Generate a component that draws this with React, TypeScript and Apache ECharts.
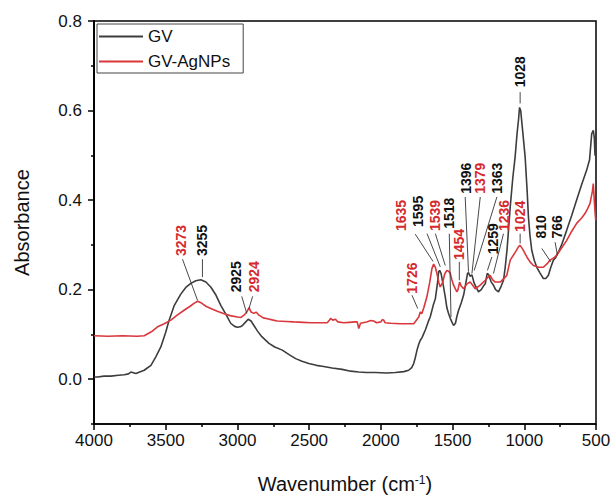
import React, { useEffect, useRef } from "react";
import * as echarts from "echarts";

// ---- Data ----
const gvWavenumber = [
  4000, 3975, 3930, 3882, 3830, 3789, 3760, 3743, 3708, 3650, 3603, 3569, 3534, 3500, 3478, 3440, 3395, 3360, 3325, 3290,
  3255, 3220, 3186, 3150, 3116, 3080, 3047, 3020, 3000, 2980, 2965, 2945, 2925, 2905, 2885, 2861, 2830, 2780, 2740, 2687,
  2640, 2594, 2550, 2502, 2450, 2409, 2340, 2270, 2210, 2154, 2100, 2038, 1960, 1899, 1840, 1806, 1785, 1771, 1760, 1748,
  1736, 1725, 1713, 1690, 1670, 1655, 1635, 1620, 1605, 1597, 1590, 1580, 1565, 1551, 1540, 1528, 1516, 1505, 1493, 1480,
  1470, 1458, 1440, 1423, 1410, 1396, 1389, 1378, 1365, 1350, 1335, 1319, 1300, 1285, 1272, 1259, 1249, 1232, 1215, 1200,
  1180, 1165, 1145, 1133, 1120, 1098, 1080, 1064, 1050, 1040, 1033, 1025, 1010, 994, 980, 971, 960, 948, 930, 913,
  890, 867, 850, 832, 815, 797, 780, 766, 762, 740, 704, 670, 635, 600, 565, 545, 530, 519, 512, 507, 500,
];
const gvAbsorbance = [
  0.005, 0.005, 0.007, 0.007, 0.009, 0.01, 0.012, 0.016, 0.013, 0.02, 0.031, 0.05, 0.072, 0.105, 0.13, 0.165, 0.19, 0.205, 0.214, 0.22,
  0.222, 0.217, 0.206, 0.188, 0.165, 0.145, 0.125, 0.118, 0.116, 0.117, 0.12, 0.127, 0.134, 0.13, 0.12, 0.108, 0.095, 0.08, 0.072, 0.065,
  0.055, 0.046, 0.04, 0.035, 0.031, 0.029, 0.025, 0.022, 0.018, 0.016, 0.015, 0.015, 0.014, 0.015, 0.017, 0.02, 0.026, 0.035, 0.048, 0.065,
  0.078, 0.087, 0.093, 0.11, 0.128, 0.14, 0.165, 0.18, 0.215, 0.24, 0.243, 0.236, 0.21, 0.184, 0.16, 0.147, 0.136, 0.128, 0.12, 0.125,
  0.14, 0.154, 0.17, 0.188, 0.21, 0.236, 0.238, 0.23, 0.233, 0.215, 0.205, 0.195, 0.2, 0.208, 0.213, 0.236, 0.234, 0.218, 0.21, 0.2,
  0.195, 0.205, 0.221, 0.25, 0.29, 0.385, 0.45, 0.496, 0.55, 0.58, 0.607, 0.6, 0.55, 0.496, 0.42, 0.362, 0.32, 0.288, 0.265, 0.25,
  0.237, 0.225, 0.225, 0.232, 0.25, 0.266, 0.272, 0.283, 0.284, 0.3, 0.333, 0.365, 0.4, 0.435, 0.467, 0.49, 0.548, 0.556, 0.54, 0.5, 0.5,
];

const agWavenumber = [
  4000, 3900, 3800, 3700, 3650, 3600, 3557, 3510, 3464, 3420, 3372, 3330, 3300, 3278, 3250, 3220, 3186, 3140, 3093, 3050,
  3000, 2975, 2954, 2935, 2919, 2905, 2885, 2870, 2850, 2820, 2791, 2750, 2722, 2660, 2606, 2540, 2490, 2420, 2374, 2360,
  2351, 2335, 2316, 2300, 2258, 2220, 2180, 2165, 2154, 2142, 2100, 2070, 2050, 2030, 2000, 1990, 1980, 1970, 1930, 1864,
  1800, 1771, 1750, 1736, 1725, 1715, 1700, 1679, 1660, 1644, 1632, 1620, 1609, 1595, 1586, 1568, 1555, 1540, 1527, 1516,
  1505, 1493, 1470, 1462, 1451, 1440, 1423, 1400, 1377, 1360, 1342, 1307, 1272, 1250, 1238, 1220, 1203, 1168, 1145, 1122,
  1098, 1060, 1040, 1029, 1010, 982, 960, 936, 900, 867, 840, 820, 790, 774, 740, 704, 670, 635, 600, 577,
  560, 542, 525, 519, 512, 506, 502, 500,
];
const agAbsorbance = [
  0.097, 0.096, 0.097, 0.096, 0.097, 0.106, 0.117, 0.124, 0.132, 0.143, 0.154, 0.163, 0.17, 0.174, 0.17, 0.163, 0.158, 0.152, 0.146, 0.142,
  0.139, 0.138, 0.143, 0.15, 0.16, 0.15, 0.147, 0.15, 0.143, 0.137, 0.135, 0.132, 0.13, 0.129, 0.128, 0.127, 0.126, 0.126, 0.126, 0.131,
  0.136, 0.132, 0.134, 0.128, 0.126, 0.127, 0.128, 0.128, 0.113, 0.125, 0.128, 0.131, 0.13, 0.126, 0.128, 0.133, 0.132, 0.126, 0.125, 0.124,
  0.124, 0.124, 0.133, 0.139, 0.15, 0.146, 0.16, 0.184, 0.215, 0.247, 0.257, 0.25, 0.236, 0.215, 0.206, 0.217, 0.235, 0.243, 0.241, 0.236,
  0.222, 0.21, 0.195, 0.2, 0.217, 0.208, 0.202, 0.213, 0.217, 0.21, 0.202, 0.21, 0.221, 0.229, 0.232, 0.222, 0.217, 0.217, 0.224, 0.232,
  0.266, 0.285, 0.296, 0.299, 0.29, 0.273, 0.262, 0.254, 0.25, 0.25, 0.258, 0.266, 0.272, 0.277, 0.293, 0.31, 0.33, 0.348, 0.36, 0.37,
  0.38, 0.392, 0.42, 0.437, 0.4, 0.37, 0.355, 0.355,
];

const seriesNames = ["GV", "GV-AgNPs"];
const xTickInterval = 500;
const yMajorTicks = [0, 0.2, 0.4, 0.6, 0.8];
const yMinorTicks = [-0.1, 0.1, 0.3, 0.5, 0.7];

// Peak annotations: label, red?, label anchor (wavenumber, absorbance), leader line from -> to
const peakLabels = ["3273", "3255", "2925", "2924", "1726", "1635", "1595", "1539", "1518", "1454", "1396", "1379", "1363", "1259", "1236", "1024", "810", "766", "1028"];
const peakIsRed = [true, false, false, true, true, true, false, true, false, true, false, true, false, false, true, true, false, false, false];
const labelWn = [3395, 3244, 3012, 2885, 1783, 1859, 1741, 1625, 1523, 1453, 1407, 1307, 1187, 1215, 1140, 1029, 885, 774, 1029];
const labelAbs = [0.275, 0.275, 0.194, 0.194, 0.191, 0.331, 0.34, 0.331, 0.336, 0.266, 0.414, 0.414, 0.414, 0.279, 0.331, 0.329, 0.314, 0.314, 0.652];
const lineFromWn = [3383, 3244, 2970, 2894, 1783, 1760, 1678, 1620, 1523, 1453, 1412, 1307, 1191, 1226, 1145, 1029, 878, 785, 1029];
const lineFromAbs = [0.268, 0.268, 0.185, 0.185, 0.1875, 0.324, 0.325, 0.325, 0.325, 0.262, 0.407, 0.407, 0.407, 0.273, 0.325, 0.325, 0.292, 0.306, 0.641];
const lineToWn = [3278, 3244, 2935, 2919, 1743, 1636, 1586, 1551, 1511, 1453, 1389, 1365, 1349, 1257, 1215, 1029, 815, 769, 1029];
const lineToAbs = [0.176, 0.228, 0.147, 0.158, 0.158, 0.263, 0.251, 0.254, 0.139, 0.221, 0.24, 0.236, 0.243, 0.243, 0.236, 0.303, 0.262, 0.277, 0.616];

const BLACK = "#3d3d3d";
const RED = "#d9373b";
const FONT = '"Liberation Sans", Arial, sans-serif';

export default function App() {
  const ref = useRef<HTMLDivElement>(null);

  useEffect(() => {
    if (!ref.current) return;
    const chart = echarts.init(ref.current, undefined, { renderer: "svg" });

    const yAxisBase = {
      type: "value",
      min: -0.1,
      max: 0.8,
      position: "left",
      splitLine: { show: false },
      axisLine: { show: true, onZero: false, lineStyle: { color: "#000", width: 1.5 } },
    };

    chart.setOption({
      animation: false,
      backgroundColor: "#fff",
      textStyle: { fontFamily: FONT },
      grid: {
        left: 94,
        right: 19,
        top: 21,
        bottom: 78,
        show: true,
        borderColor: "#000",
        borderWidth: 1.5,
        containLabel: false,
      },
      legend: {
        show: true,
        orient: "vertical",
        left: 97,
        top: 24,
        data: seriesNames,
        icon: "rect",
        itemWidth: 44,
        itemHeight: 2,
        itemGap: 8,
        padding: [4, 13, 3, 2],
        borderColor: "#444",
        borderWidth: 1,
        backgroundColor: "#fff",
        textStyle: { fontSize: 17, color: "#111", fontFamily: FONT, lineHeight: 17, padding: [0, 0, 0, 0] },
      },
      xAxis: {
        type: "value",
        min: 500,
        max: 4000,
        interval: xTickInterval,
        inverse: true,
        name: "Wavenumber (cm{sup|-1})",
        nameLocation: "middle",
        nameGap: 50,
        nameTextStyle: {
          fontSize: 20,
          color: "#111",
          fontFamily: FONT,
          rich: { sup: { fontSize: 12, verticalAlign: "top", color: "#111", fontFamily: FONT } },
        },
        splitLine: { show: false },
        axisLine: { show: true, onZero: false, lineStyle: { color: "#000", width: 1.5 } },
        axisTick: { show: true, inside: false, length: 6, lineStyle: { color: "#000", width: 1.5 } },
        minorTick: { show: true, splitNumber: 2, length: 3, lineStyle: { color: "#000", width: 1.5 } },
        axisLabel: {
          fontSize: 17,
          color: "#111",
          margin: 8,
          fontFamily: FONT,
          formatter: (v: number) => String(v),
        },
      },
      yAxis: [
        {
          ...yAxisBase,
          name: "Absorbance",
          nameLocation: "middle",
          nameGap: 62,
          nameTextStyle: { fontSize: 20, color: "#111", fontFamily: FONT },
          axisTick: { show: true, inside: false, length: 6, customValues: yMajorTicks, lineStyle: { color: "#000", width: 1.5 } },
          axisLabel: {
            customValues: yMajorTicks,
            fontSize: 17,
            color: "#111",
            margin: 12,
            fontFamily: FONT,
            formatter: (v: number) => v.toFixed(1),
          },
        },
        {
          ...yAxisBase,
          axisTick: { show: true, inside: false, length: 3, customValues: yMinorTicks, lineStyle: { color: "#000", width: 1.5 } },
          axisLabel: { show: false },
        },
      ],
      series: [
        {
          name: seriesNames[0],
          type: "line",
          showSymbol: false,
          symbol: "none",
          color: BLACK,
          lineStyle: { color: BLACK, width: 1.6 },
          data: gvWavenumber.map((w, i) => [w, gvAbsorbance[i]]),
          z: 2,
        },
        {
          name: seriesNames[1],
          type: "line",
          showSymbol: false,
          symbol: "none",
          color: RED,
          lineStyle: { color: RED, width: 1.6 },
          data: agWavenumber.map((w, i) => [w, agAbsorbance[i]]),
          z: 3,
        },
      ],
    });

    const toPx = (wn: number, a: number) =>
      chart.convertToPixel({ xAxisIndex: 0, yAxisIndex: 0 }, [wn, a]) as number[];

    const graphics: any[] = [];
    peakLabels.forEach((label, i) => {
      const p1 = toPx(lineFromWn[i], lineFromAbs[i]);
      const p2 = toPx(lineToWn[i], lineToAbs[i]);
      graphics.push({
        type: "line",
        silent: true,
        shape: { x1: p1[0], y1: p1[1], x2: p2[0], y2: p2[1] },
        style: { stroke: "#333", lineWidth: 0.9 },
        z: 10,
      });
      const t = toPx(labelWn[i], labelAbs[i]);
      graphics.push({
        type: "text",
        silent: true,
        x: t[0],
        y: t[1],
        rotation: Math.PI / 2,
        style: {
          text: label,
          fill: peakIsRed[i] ? "#d42a2e" : "#111",
          fontSize: 14,
          fontWeight: "bold",
          fontFamily: FONT,
          align: "left",
          verticalAlign: "middle",
        },
        z: 10,
      });
    });
    chart.setOption({ graphic: graphics });

    return () => chart.dispose();
  }, []);

  return (
    <div
      ref={ref}
      style={{ position: "fixed", left: 0, top: 0, width: 615, height: 502, background: "#fff" }}
    />
  );
}
